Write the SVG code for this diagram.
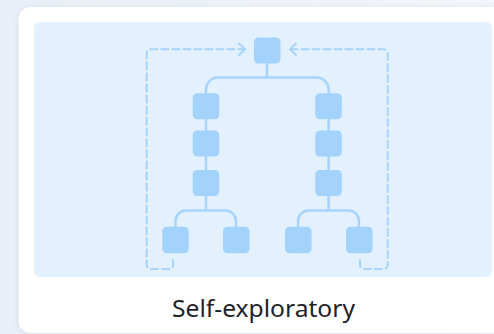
<svg xmlns="http://www.w3.org/2000/svg" width="494" height="334" viewBox="0 0 494 334">
<defs>
<linearGradient id="bg" x1="0" y1="0" x2="1" y2="0">
<stop offset="0" stop-color="#e9eff7"/>
<stop offset="1" stop-color="#f3f6fa"/>
</linearGradient>
<filter id="sh" x="-10%" y="-10%" width="120%" height="120%">
<feDropShadow dx="0" dy="1" stdDeviation="3" flood-color="#8aa4c8" flood-opacity="0.25"/>
</filter>
<style>
.node{fill:#a3d3fd}
.ln{fill:none;stroke:#a6d4fc;stroke-width:2.5;stroke-linecap:round;stroke-linejoin:round}
.dash{fill:none;stroke:#a6d4fc;stroke-width:2;stroke-dasharray:7 4;stroke-linecap:round}
.arr{fill:none;stroke:#a6d4fc;stroke-width:2;stroke-linecap:round;stroke-linejoin:round}
</style>
</defs>
<rect width="494" height="334" fill="url(#bg)"/>
<rect x="18.5" y="7" width="500" height="326" rx="12" fill="#ffffff" filter="url(#sh)"/>
<rect x="34" y="22" width="458" height="255" rx="6" fill="#e3f0fd"/>
<g id="connectors">
<path class="ln" d="M267 63 V77.5 M206 93 V89.5 A12 12 0 0 1 218 77.5 H316.6 A12 12 0 0 1 328.6 89.5 V93"/>
<path class="ln" d="M206 119 V131 M206 156 V171 M328.6 119 V131 M328.6 156 V171"/>
<path class="ln" d="M206 196 V210.5 M175.5 227 V221 A10.5 10.5 0 0 1 186 210.5 H225.5 A10.5 10.5 0 0 1 236 221 V227"/>
<path class="ln" d="M328.6 196 V210.5 M298 227 V221 A10.5 10.5 0 0 1 308.5 210.5 H348.5 A10.5 10.5 0 0 1 359 221 V227"/>
<path class="dash" d="M173 260 V265 A4 4 0 0 1 169 269 H150.7 A4 4 0 0 1 146.7 265 V53.3 A4 4 0 0 1 150.7 49.3 H243"/>
<path class="arr" d="M239 43.5 L245 49.3 L239 55"/>
<path class="dash" d="M360 260 V265 A4 4 0 0 0 364 269 H383.7 A4 4 0 0 0 387.7 265 V53.3 A4 4 0 0 0 383.7 49.3 H292"/>
<path class="arr" d="M296 43.5 L290 49.3 L296 55"/>
</g>
<g id="n-root"><rect class="node" x="254" y="37.5" width="26.5" height="26" rx="4.5"/></g>
<g id="n-l1"><rect class="node" x="192.7" y="93.3" width="26.5" height="26" rx="4.5"/></g>
<g id="n-l2"><rect class="node" x="192.7" y="130.5" width="26.5" height="26" rx="4.5"/></g>
<g id="n-l3"><rect class="node" x="192.7" y="170" width="26.5" height="26" rx="4.5"/></g>
<g id="n-r1"><rect class="node" x="315.3" y="93.3" width="26.5" height="26" rx="4.5"/></g>
<g id="n-r2"><rect class="node" x="315.3" y="130.5" width="26.5" height="26" rx="4.5"/></g>
<g id="n-r3"><rect class="node" x="315.3" y="170" width="26.5" height="26" rx="4.5"/></g>
<g id="n-ll"><rect class="node" x="162.3" y="226.7" width="26.5" height="26.6" rx="4.5"/></g>
<g id="n-lr"><rect class="node" x="223" y="226.7" width="26.5" height="26.6" rx="4.5"/></g>
<g id="n-rl"><rect class="node" x="285" y="226.7" width="26.5" height="26.6" rx="4.5"/></g>
<g id="n-rr"><rect class="node" x="346" y="226.7" width="26.5" height="26.6" rx="4.5"/></g>
<text x="263.5" y="317" text-anchor="middle" font-family="'Noto Sans', 'Open Sans', sans-serif" font-size="24" textLength="183" lengthAdjust="spacingAndGlyphs" fill="#1f2329">Self-exploratory</text>
</svg>
